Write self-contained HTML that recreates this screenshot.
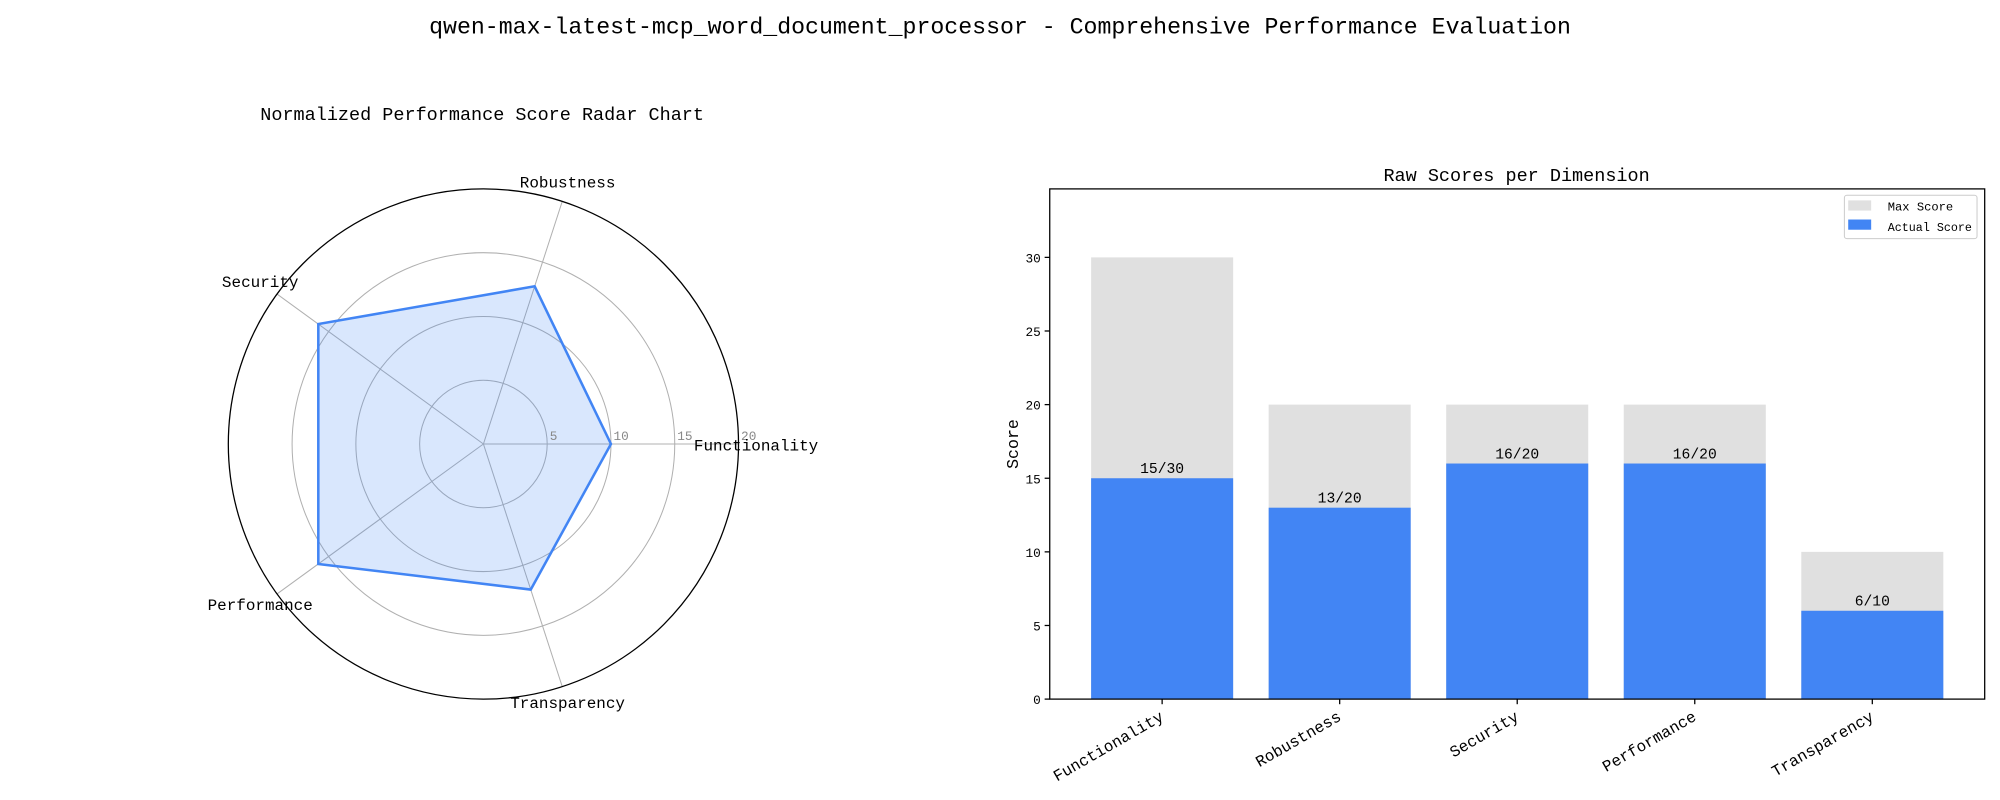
<!DOCTYPE html>
<html><head><meta charset="utf-8"><style>
html,body{margin:0;padding:0;background:#fff;}
svg{display:block;font-family:"Liberation Mono","Noto Sans CJK SC",monospace;}
</style></head><body>
<svg id="chart" width="2000" height="800" viewBox="0 0 1568 627" xmlns="http://www.w3.org/2000/svg">
<text x="784" y="26" font-size="18.2" text-anchor="middle">qwen-max-latest-mcp_word_document_processor - Comprehensive Performance Evaluation</text>
<text x="378" y="94" font-size="14.5" text-anchor="middle">Normalized Performance Score Radar Chart</text>
<text x="1189" y="142" font-size="14.5" text-anchor="middle">Raw Scores per Dimension</text>
<g id="radar"></g>
<g id="bars"></g>
</svg>
<script>
const categories = ["Functionality","Robustness","Security","Performance","Transparency"];
const actualScores = [15,13,16,16,6];
const maxScores = [30,20,20,20,10];
const radarTicks = [5,10,15,20];
const yTicks = [0,5,10,15,20,25,30];

const NS="http://www.w3.org/2000/svg";
function mk(tag, attrs, parent){const e=document.createElementNS(NS,tag);for(const k in attrs)e.setAttribute(k,attrs[k]);parent.appendChild(e);return e;}

// Radar
const radar=document.getElementById('radar');
const cx=379, cy=348, R=200, rMax=20;
const rScale=v=>v/rMax*R;
const ang=i=>i*2*Math.PI/categories.length;
radarTicks.slice(0,-1).forEach(t=>{
  const c=mk('circle',{cx:cx,cy:cy,r:rScale(t),fill:'none',stroke:'#b0b0b0','stroke-width':0.8},radar);
  
  
});
categories.forEach((c,i)=>{
  const a=ang(i);
  const l=mk('line',{x1:cx,y1:cy,x2:cx+R*Math.cos(a),y2:cy-R*Math.sin(a),stroke:'#b0b0b0','stroke-width':0.8},radar);
  
  
});
const norm=actualScores.map((v,i)=>v/maxScores[i]*rMax);
const pts=norm.map((v,i)=>[cx+rScale(v)*Math.cos(ang(i)),cy-rScale(v)*Math.sin(ang(i))]);
const poly=mk('polygon',{points:pts.map(p=>p.join(',')).join(' '),fill:'rgba(66,133,244,0.2)',stroke:'#4285f4','stroke-width':2,'stroke-linejoin':'miter'},radar);


const outer=mk('circle',{cx:cx,cy:cy,r:R,fill:'none',stroke:'#000','stroke-width':1},radar);


radarTicks.forEach(t=>{
  const tx=mk('text',{x:cx+rScale(t)+2,y:cy-3,'font-size':10,fill:'#888'},radar);
  tx.textContent=t;
  
  
});
const labelPos=[[544,353,'start'],[445,147,'middle'],[204,225,'middle'],[204,478,'middle'],[445,555,'middle']];
categories.forEach((c,i)=>{
  const p=labelPos[i];
  const t=mk('text',{x:p[0],y:p[1],'font-size':12.5,'text-anchor':p[2]},radar);
  t.textContent=c;
  
  
});

// Bars
const bars=document.getElementById('bars');
const L=823,Rr=1556,T=148,B=548, yMax=34.65, xMin=-0.633, xMax=4.633;
const ys=v=>B-(v/yMax)*(B-T);
const xs=i=>L+(i-xMin)/(xMax-xMin)*(Rr-L);
const bw=0.8*(Rr-L)/(xMax-xMin);
categories.forEach((c,i)=>{
  const m=mk('rect',{x:xs(i)-bw/2,y:ys(maxScores[i]),width:bw,height:ys(0)-ys(maxScores[i]),fill:'#e0e0e0'},bars);
  
  
  const a=mk('rect',{x:xs(i)-bw/2,y:ys(actualScores[i]),width:bw,height:ys(0)-ys(actualScores[i]),fill:'#4285f4'},bars);
  
  
  const lb=mk('text',{x:xs(i),y:ys(actualScores[i])-4,'font-size':11.5,'text-anchor':'middle'},bars);
  lb.textContent=actualScores[i]+'/'+maxScores[i];
  
  
  const tk=mk('line',{x1:xs(i),y1:B,x2:xs(i),y2:B+4,stroke:'#000'},bars);
  
  
  const xl=mk('text',{x:xs(i)+2,y:B+16,'font-size':12.5,'text-anchor':'end',transform:`rotate(-30 ${xs(i)+2} ${B+16})`},bars);
  xl.textContent=c;
  
  
});
yTicks.forEach(t=>{
  const tk=mk('line',{x1:L-4,y1:ys(t),x2:L,y2:ys(t),stroke:'#000'},bars);
  
  
  const tl=mk('text',{x:L-7,y:ys(t)+4,'font-size':10,'text-anchor':'end'},bars);
  tl.textContent=t;
  
  
});
const frame=mk('rect',{x:L,y:T,width:Rr-L,height:B-T,fill:'none',stroke:'#000','stroke-width':1},bars);


const yl=mk('text',{x:798,y:348,'font-size':13,'text-anchor':'middle',transform:'rotate(-90 798 348)'},bars);
yl.textContent='Score';


// legend
const lg=mk('g',{},bars);


mk('rect',{x:1446,y:153,width:104,height:34,fill:'#fff',stroke:'#ccc','stroke-width':0.8,rx:2},lg);
mk('rect',{x:1449,y:157,width:18,height:8,fill:'#e0e0e0'},lg);
mk('rect',{x:1449,y:172,width:18,height:8,fill:'#4285f4'},lg);
const l1=mk('text',{x:1480,y:165,'font-size':9.5},lg);l1.textContent='Max Score';


const l2=mk('text',{x:1480,y:181,'font-size':9.5,textLength:66,lengthAdjust:'spacingAndGlyphs'},lg);l2.textContent='Actual Score';


</script>
</body></html>
